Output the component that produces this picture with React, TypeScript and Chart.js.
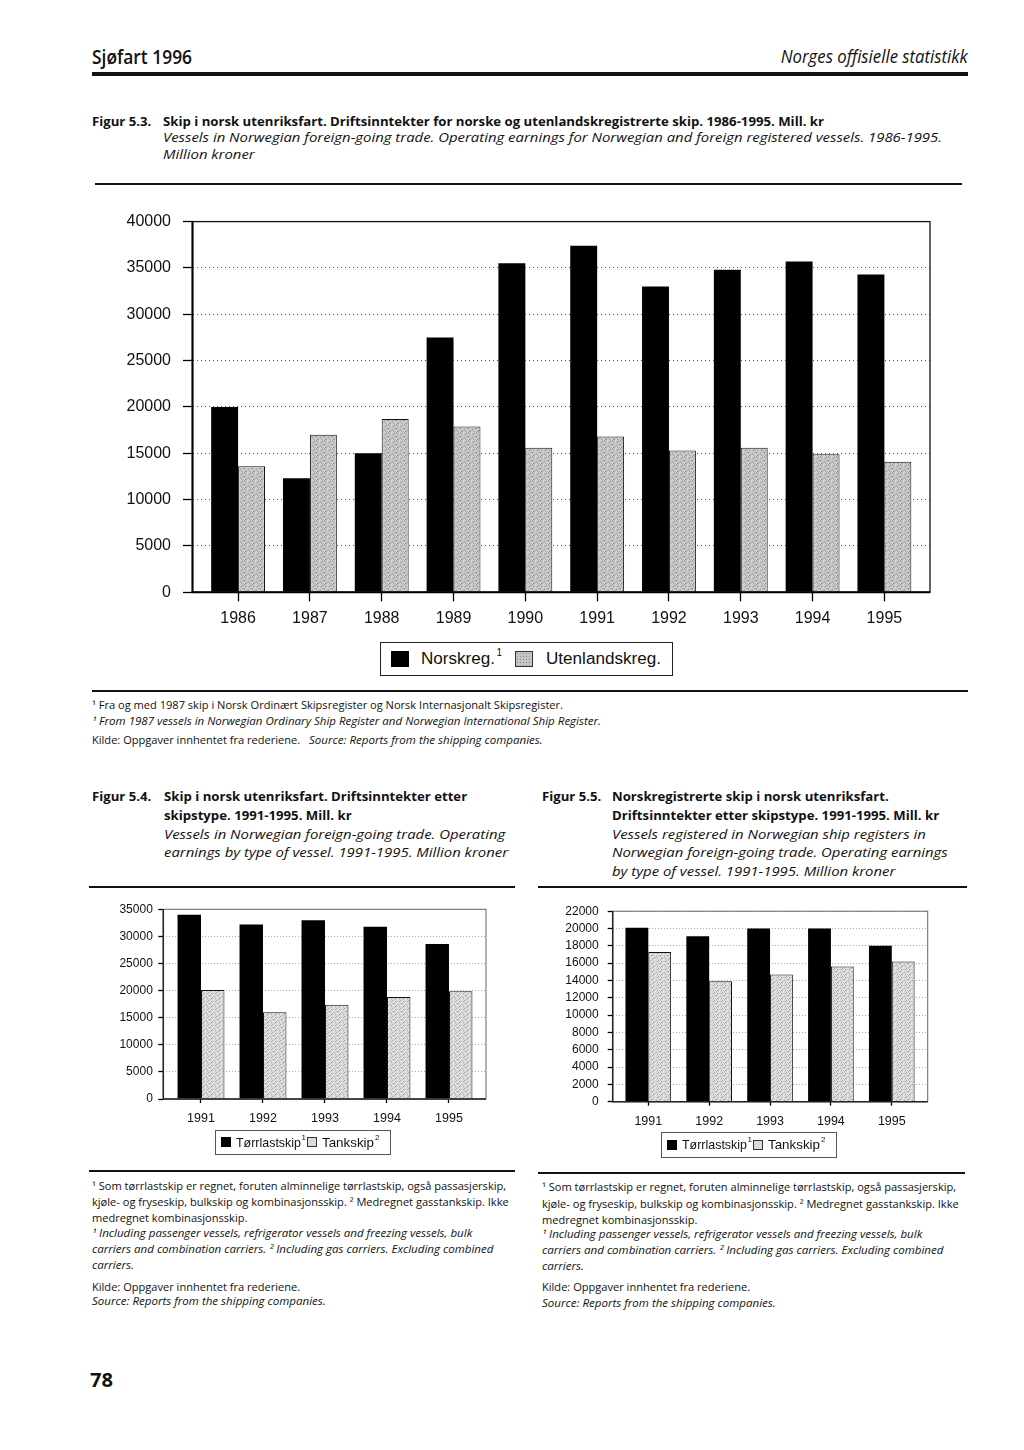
import React, { useEffect, useRef } from 'react';
import { Chart, registerables } from 'chart.js';

Chart.register(...registerables);

// ---------------- Data ----------------
const years53 = [1986, 1987, 1988, 1989, 1990, 1991, 1992, 1993, 1994, 1995];
const norskreg = [20000, 12300, 15000, 27500, 35500, 37400, 33000, 34800, 35700, 34300];
const utenlandskreg = [13600, 17000, 18700, 17900, 15600, 16800, 15300, 15600, 14900, 14100];
const series53 = ['Norskreg.', 'Utenlandskreg.'];

const years5x = [1991, 1992, 1993, 1994, 1995];
const torrlast54 = [34000, 32200, 33000, 31800, 28600];
const tank54 = [20100, 16000, 17400, 18800, 19900];
const torrlast55 = [20100, 19100, 20000, 20000, 18000];
const tank55 = [17300, 13900, 14700, 15600, 16200];
const series5x = ['Tørrlastskip', 'Tankskip'];

// ---------------- Helpers ----------------
const BODY = "'Open Sans', 'Noto Sans', sans-serif";
const ARIAL = "'Liberation Sans', Arial, sans-serif";

type Sty = { size: number; weight: number; italic?: boolean; family: string; scale?: number };

let mctx: CanvasRenderingContext2D | null = null;
function fontCss(st: Sty) {
  return `${st.italic ? 'italic ' : ''}${st.weight} ${st.size}px ${st.family}`;
}
function measure(text: string, st: Sty) {
  if (!mctx) mctx = document.createElement('canvas').getContext('2d');
  mctx!.font = fontCss(st);
  return mctx!.measureText(text).width || 1;
}
function calib(st: Sty, text: string, target: number): Sty {
  return { ...st, scale: target / measure(text, st) };
}

function Txt({ x, y, text, st, w, right }: { x: number; y: number; text: string; st: Sty; w?: number; right?: boolean }) {
  const scale = w ? w / measure(text, st) : st.scale ?? 1;
  const style: any = {
    position: 'absolute',
    top: y - st.size * 0.6,
    lineHeight: `${st.size * 1.2}px`,
    fontFamily: st.family,
    fontSize: st.size,
    fontWeight: st.weight,
    fontStyle: st.italic ? 'italic' : 'normal',
    whiteSpace: 'pre',
    color: '#111',
    transform: `scaleX(${scale})`,
    transformOrigin: right ? 'right center' : 'left center',
  };
  if (right) style.right = 1024 - x;
  else style.left = x;
  return <div style={style}>{text}</div>;
}

function Rule({ x, y, w, h }: { x: number; y: number; w: number; h: number }) {
  return <div style={{ position: 'absolute', left: x, top: y, width: w, height: h, background: '#111' }} />;
}

function Box({ x, y, w, h, border, bg, extra }: any) {
  return (
    <div
      style={{
        position: 'absolute', left: x, top: y, width: w, height: h, boxSizing: 'border-box',
        border: border || 'none', background: bg || 'transparent', ...(extra || {}),
      }}
    />
  );
}

// fixed stipple layout for the grey texture (8x8 tile)
const STIPPLE = [
  [0, 0], [3, 0], [6, 1], [1, 2], [5, 2], [3, 3], [7, 4], [0, 4], [4, 5], [2, 6], [6, 6], [1, 7], [5, 7],
];
function makePattern(base: string, dark: string, light: string) {
  const c = document.createElement('canvas');
  c.width = 8;
  c.height = 8;
  const g = c.getContext('2d')!;
  g.fillStyle = base;
  g.fillRect(0, 0, 8, 8);
  g.fillStyle = dark;
  STIPPLE.forEach(([x, y]) => g.fillRect(x, y, 1, 1));
  g.fillStyle = light;
  STIPPLE.forEach(([x, y]) => g.fillRect((x + 2) % 8, (y + 1) % 8, 1, 1));
  return g.createPattern(c, 'repeat');
}

const framePlugin: any = {
  id: 'frame',
  defaults: { color: '#000', width: 1, axisColor: '#000', axisWidth: 1.5 },
  afterDatasetsDraw(chart: any, _a: any, o: any) {
    const { ctx, chartArea: c } = chart;
    ctx.save();
    ctx.setLineDash([]);
    ctx.strokeStyle = o.color;
    ctx.lineWidth = o.width;
    ctx.strokeRect(c.left, c.top, c.right - c.left, c.bottom - c.top);
    ctx.strokeStyle = o.axisColor;
    ctx.lineWidth = o.axisWidth;
    ctx.beginPath();
    ctx.moveTo(c.left, c.top);
    ctx.lineTo(c.left, c.bottom);
    ctx.lineTo(c.right, c.bottom);
    ctx.stroke();
    ctx.restore();
  },
};

type Spec = {
  left: number; top: number; width: number; height: number;
  years: number[]; a: number[]; b: number[]; names: string[];
  xMin: number; xMax: number; yMax: number; yStep: number;
  padTop: number; padRight: number; yWidth: number; xHeight: number;
  yFont: number; xFont: number; yTickLen: number; yPad: number; xTickLen: number; xPad: number;
  cat: number; gray: [string, string, string]; gridColor: string; gridDash: number[];
  frameColor: string; frameWidth: number; axisColor: string; axisWidth: number;
};

function BarChart({ s }: { s: Spec }) {
  const ref = useRef<HTMLCanvasElement>(null);
  useEffect(() => {
    const canvas = ref.current!;
    const pattern = makePattern(s.gray[0], s.gray[1], s.gray[2]);
    const chart = new Chart(canvas, {
      type: 'bar',
      data: {
        datasets: [
          {
            label: s.names[0],
            data: s.years.map((x, i) => ({ x, y: s.a[i] })),
            backgroundColor: '#000',
            borderWidth: 0,
          },
          {
            label: s.names[1],
            data: s.years.map((x, i) => ({ x, y: s.b[i] })),
            backgroundColor: pattern as any,
            borderColor: '#111',
            borderWidth: 1,
          },
        ],
      } as any,
      options: {
        responsive: false,
        animation: false,
        devicePixelRatio: 1,
        layout: { padding: { top: s.padTop, right: s.padRight, left: 0, bottom: 0 } },
        datasets: { bar: { categoryPercentage: s.cat, barPercentage: 1 } },
        plugins: {
          legend: { display: false },
          tooltip: { enabled: false },
          title: { display: false },
          frame: { color: s.frameColor, width: s.frameWidth, axisColor: s.axisColor, axisWidth: s.axisWidth },
        } as any,
        scales: {
          x: {
            type: 'linear',
            min: s.xMin,
            max: s.xMax,
            offset: false,
            grid: {
              offset: false, drawOnChartArea: false, drawTicks: true,
              tickLength: s.xTickLen, tickColor: '#000', tickWidth: 1.3,
            },
            border: { display: false },
            ticks: {
              stepSize: 1, includeBounds: false, autoSkip: false, maxRotation: 0, minRotation: 0,
              padding: s.xPad, color: '#111', font: { family: ARIAL, size: s.xFont },
              callback: (v: any) => String(v),
            },
            afterFit: (sc: any) => { sc.height = s.xHeight; },
          },
          y: {
            type: 'linear',
            min: 0,
            max: s.yMax,
            grid: {
              color: s.gridColor, lineWidth: 1, drawTicks: true,
              tickLength: s.yTickLen, tickColor: '#000', tickWidth: 1.3,
            },
            border: { display: false, dash: s.gridDash },
            ticks: {
              stepSize: s.yStep, padding: s.yPad, color: '#111', autoSkip: false,
              font: { family: ARIAL, size: s.yFont },
              callback: (v: any) => String(v),
            },
            afterFit: (sc: any) => { sc.width = s.yWidth; },
          },
        },
      } as any,
      plugins: [framePlugin],
    });
    return () => chart.destroy();
  }, []);
  return (
    <canvas
      ref={ref}
      width={s.width}
      height={s.height}
      style={{ position: 'absolute', left: s.left, top: s.top, width: s.width, height: s.height }}
    />
  );
}

const spec53: Spec = {
  left: 100, top: 200, width: 850, height: 440,
  years: years53, a: norskreg, b: utenlandskreg, names: series53,
  xMin: 1985.365, xMax: 1995.635, yMax: 40000, yStep: 5000,
  padTop: 16.5, padRight: 20, yWidth: 92.5, xHeight: 47.7,
  yFont: 16, xFont: 16, yTickLen: 9.5, yPad: 12, xTickLen: 9, xPad: 7.4,
  cat: 0.75, gray: ['#c4c4c4', '#8e8e8e', '#dadada'], gridColor: '#555', gridDash: [1, 3],
  frameColor: '#111', frameWidth: 1.3, axisColor: '#000', axisWidth: 2,
};

const spec54: Spec = {
  left: 90, top: 895, width: 410, height: 245,
  years: years5x, a: torrlast54, b: tank54, names: series5x,
  xMin: 1990.392, xMax: 1995.597, yMax: 35000, yStep: 5000,
  padTop: 14.3, padRight: 14, yWidth: 73.3, xHeight: 41,
  yFont: 12, xFont: 12.5, yTickLen: 5, yPad: 5.5, xTickLen: 4, xPad: 8.5,
  cat: 0.757, gray: ['#d6d6d6', '#a6a6a6', '#ececec'], gridColor: '#aaa', gridDash: [1, 2],
  frameColor: '#666', frameWidth: 1, axisColor: '#222', axisWidth: 1.5,
};

const spec55: Spec = {
  left: 540, top: 895, width: 400, height: 245,
  years: years5x, a: torrlast55, b: tank55, names: series5x,
  xMin: 1990.415, xMax: 1995.59, yMax: 22000, yStep: 2000,
  padTop: 15.5, padRight: 12.3, yWidth: 72.7, xHeight: 38.3,
  yFont: 12, xFont: 12.5, yTickLen: 5, yPad: 9, xTickLen: 4, xPad: 8,
  cat: 0.75, gray: ['#d6d6d6', '#a6a6a6', '#ececec'], gridColor: '#aaa', gridDash: [1, 2],
  frameColor: '#666', frameWidth: 1, axisColor: '#222', axisWidth: 1.5,
};

// ---------------- Text ----------------
const T53_1 = 'Skip i norsk utenriksfart. Driftsinntekter for norske og utenlandskregistrerte skip. 1986-1995. Mill. kr';
const T53_2 = 'Vessels in Norwegian foreign-going trade. Operating earnings for Norwegian and foreign registered vessels. 1986-1995.';
const N53_1 = '¹ Fra og med 1987 skip i Norsk Ordinært Skipsregister og Norsk Internasjonalt Skipsregister.';
const N53_2 = '¹ From 1987 vessels in Norwegian Ordinary Ship Register and Norwegian International Ship Register.';

const notes5x: [string, boolean][] = [
  ['¹ Som tørrlastskip er regnet, foruten alminnelige tørrlastskip, også passasjerskip,', false],
  ['kjøle- og fryseskip, bulkskip og kombinasjonsskip. ² Medregnet gasstankskip. Ikke', false],
  ['medregnet kombinasjonsskip.', false],
  ['¹ Including passenger vessels, refrigerator vessels and freezing vessels, bulk', true],
  ['carriers and combination carriers. ² Including gas carriers. Excluding combined', true],
  ['carriers.', true],
  ['Kilde: Oppgaver innhentet fra rederiene.', false],
  ['Source: Reports from the shipping companies.', true],
];

function SmallLegend({ x, y, h, sqTop, textY }: { x: number; y: number; h: number; sqTop: number; textY: number }) {
  const leg: Sty = { size: 13, weight: 400, family: ARIAL };
  const sup: Sty = { size: 8, weight: 400, family: ARIAL };
  return (
    <>
      <Box x={x} y={y} w={175.7} h={h} border="1px solid #555" />
      <Box x={x + 6.4} y={sqTop} w={10} h={10} bg="#000" />
      <Txt x={x + 20.7} y={textY} text={series5x[0]} st={leg} w={65} />
      <Txt x={x + 86.5} y={textY - 5} text="1" st={sup} />
      <Box x={x + 92.4} y={sqTop} w={10} h={10} bg="#dadada" border="1px solid #333" />
      <Txt x={x + 106.7} y={textY} text={series5x[1]} st={leg} w={52} />
      <Txt x={x + 160} y={textY - 5} text="2" st={sup} />
    </>
  );
}

export default function App() {
  const titleB = calib({ size: 12, weight: 700, family: BODY }, T53_1, 661);
  const titleI = calib({ size: 12, weight: 400, italic: true, family: BODY }, T53_2, 779);
  const noteR = calib({ size: 10.5, weight: 400, family: BODY }, N53_1, 471);
  const noteI = calib({ size: 10.5, weight: 400, italic: true, family: BODY }, N53_2, 509);
  const head: Sty = { size: 19, weight: 600, family: BODY };
  const headI: Sty = { size: 18, weight: 400, italic: true, family: BODY };
  const leg16: Sty = { size: 16, weight: 400, family: ARIAL };
  const sup10: Sty = { size: 10, weight: 400, family: ARIAL };

  const leftNotesY = [1186.7, 1202.7, 1218.7, 1233.3, 1249.3, 1265.3, 1287, 1301.3];
  const rightNotesY = [1187.7, 1204, 1220, 1234, 1250.7, 1266, 1287.7, 1303.3];

  return (
    <div style={{ position: 'absolute', left: 0, top: 0, width: 1024, height: 1450, background: '#fff', overflow: 'hidden' }}>
      {/* Header */}
      <Txt x={92} y={57} text="Sjøfart 1996" st={head} w={100} />
      <Txt x={968} y={57} text="Norges offisielle statistikk" st={headI} w={187} right />
      <Rule x={92} y={71.5} w={876} h={4.5} />

      {/* Figure 5.3 title */}
      <Txt x={92} y={122.5} text="Figur 5.3." st={titleB} />
      <Txt x={163} y={122.5} text={T53_1} st={titleB} />
      <Txt x={163} y={138.5} text={T53_2} st={titleI} />
      <Txt x={163} y={155.5} text="Million kroner" st={titleI} />
      <Rule x={95} y={183} w={867} h={1.5} />

      <BarChart s={spec53} />

      {/* Figure 5.3 legend */}
      <Box x={380} y={642} w={293} h={34} border="1.3px solid #222" />
      <Box x={390.7} y={650.7} w={18.6} h={16.6} bg="#000" />
      <Txt x={421} y={659} text={series53[0]} st={leg16} w={74} />
      <Txt x={496.5} y={652.5} text="1" st={sup10} />
      <Box
        x={515} y={650.7} w={17.7} h={16.6} bg="#c6c6c6" border="1px solid #333"
        extra={{ backgroundImage: 'radial-gradient(#8a8a8a 0.6px, transparent 0.9px)', backgroundSize: '3px 3px' }}
      />
      <Txt x={545.7} y={659} text={series53[1]} st={leg16} w={115} />

      {/* Figure 5.3 notes */}
      <Rule x={92} y={690} w={876} h={1.5} />
      <Txt x={92} y={705.7} text={N53_1} st={noteR} />
      <Txt x={92} y={721.7} text={N53_2} st={noteI} />
      <Txt x={92} y={740} text="Kilde: Oppgaver innhentet fra rederiene." st={noteR} />
      <Txt x={309} y={740} text="Source: Reports from the shipping companies." st={noteI} />

      {/* Figure 5.4 title */}
      <Txt x={92} y={797.3} text="Figur 5.4." st={titleB} />
      <Txt x={164} y={797.3} text="Skip i norsk utenriksfart. Driftsinntekter etter" st={titleB} />
      <Txt x={164} y={816.5} text="skipstype. 1991-1995. Mill. kr" st={titleB} />
      <Txt x={164} y={835} text="Vessels in Norwegian foreign-going trade. Operating" st={titleI} />
      <Txt x={164} y={853.3} text="earnings by type of vessel. 1991-1995. Million kroner" st={titleI} />
      <Rule x={89} y={886} w={426} h={2} />

      {/* Figure 5.5 title */}
      <Txt x={542} y={797.3} text="Figur 5.5." st={titleB} />
      <Txt x={612} y={797.3} text="Norskregistrerte skip i norsk utenriksfart." st={titleB} />
      <Txt x={612} y={816.5} text="Driftsinntekter etter skipstype. 1991-1995. Mill. kr" st={titleB} />
      <Txt x={612} y={835} text="Vessels registered in Norwegian ship registers in" st={titleI} />
      <Txt x={612} y={853.3} text="Norwegian foreign-going trade. Operating earnings" st={titleI} />
      <Txt x={612} y={871.7} text="by type of vessel. 1991-1995. Million kroner" st={titleI} />
      <Rule x={538} y={886} w={429} h={2} />

      <BarChart s={spec54} />
      <BarChart s={spec55} />

      <SmallLegend x={215} y={1130} h={24.5} sqTop={1137.3} textY={1142.3} />
      <SmallLegend x={661} y={1132} h={25.5} sqTop={1139.8} textY={1144.8} />

      {/* Small chart notes */}
      <Rule x={89} y={1170} w={426} h={1.5} />
      <Rule x={538} y={1172} w={427} h={1.5} />
      {notes5x.map(([t, it], i) => (
        <Txt key={'l' + i} x={92} y={leftNotesY[i]} text={t} st={it ? noteI : noteR} />
      ))}
      {notes5x.map(([t, it], i) => (
        <Txt key={'r' + i} x={542} y={rightNotesY[i]} text={t} st={it ? noteI : noteR} />
      ))}

      {/* Page number */}
      <Txt x={90} y={1380} text="78" st={{ size: 20, weight: 700, family: BODY }} w={23} />
    </div>
  );
}
